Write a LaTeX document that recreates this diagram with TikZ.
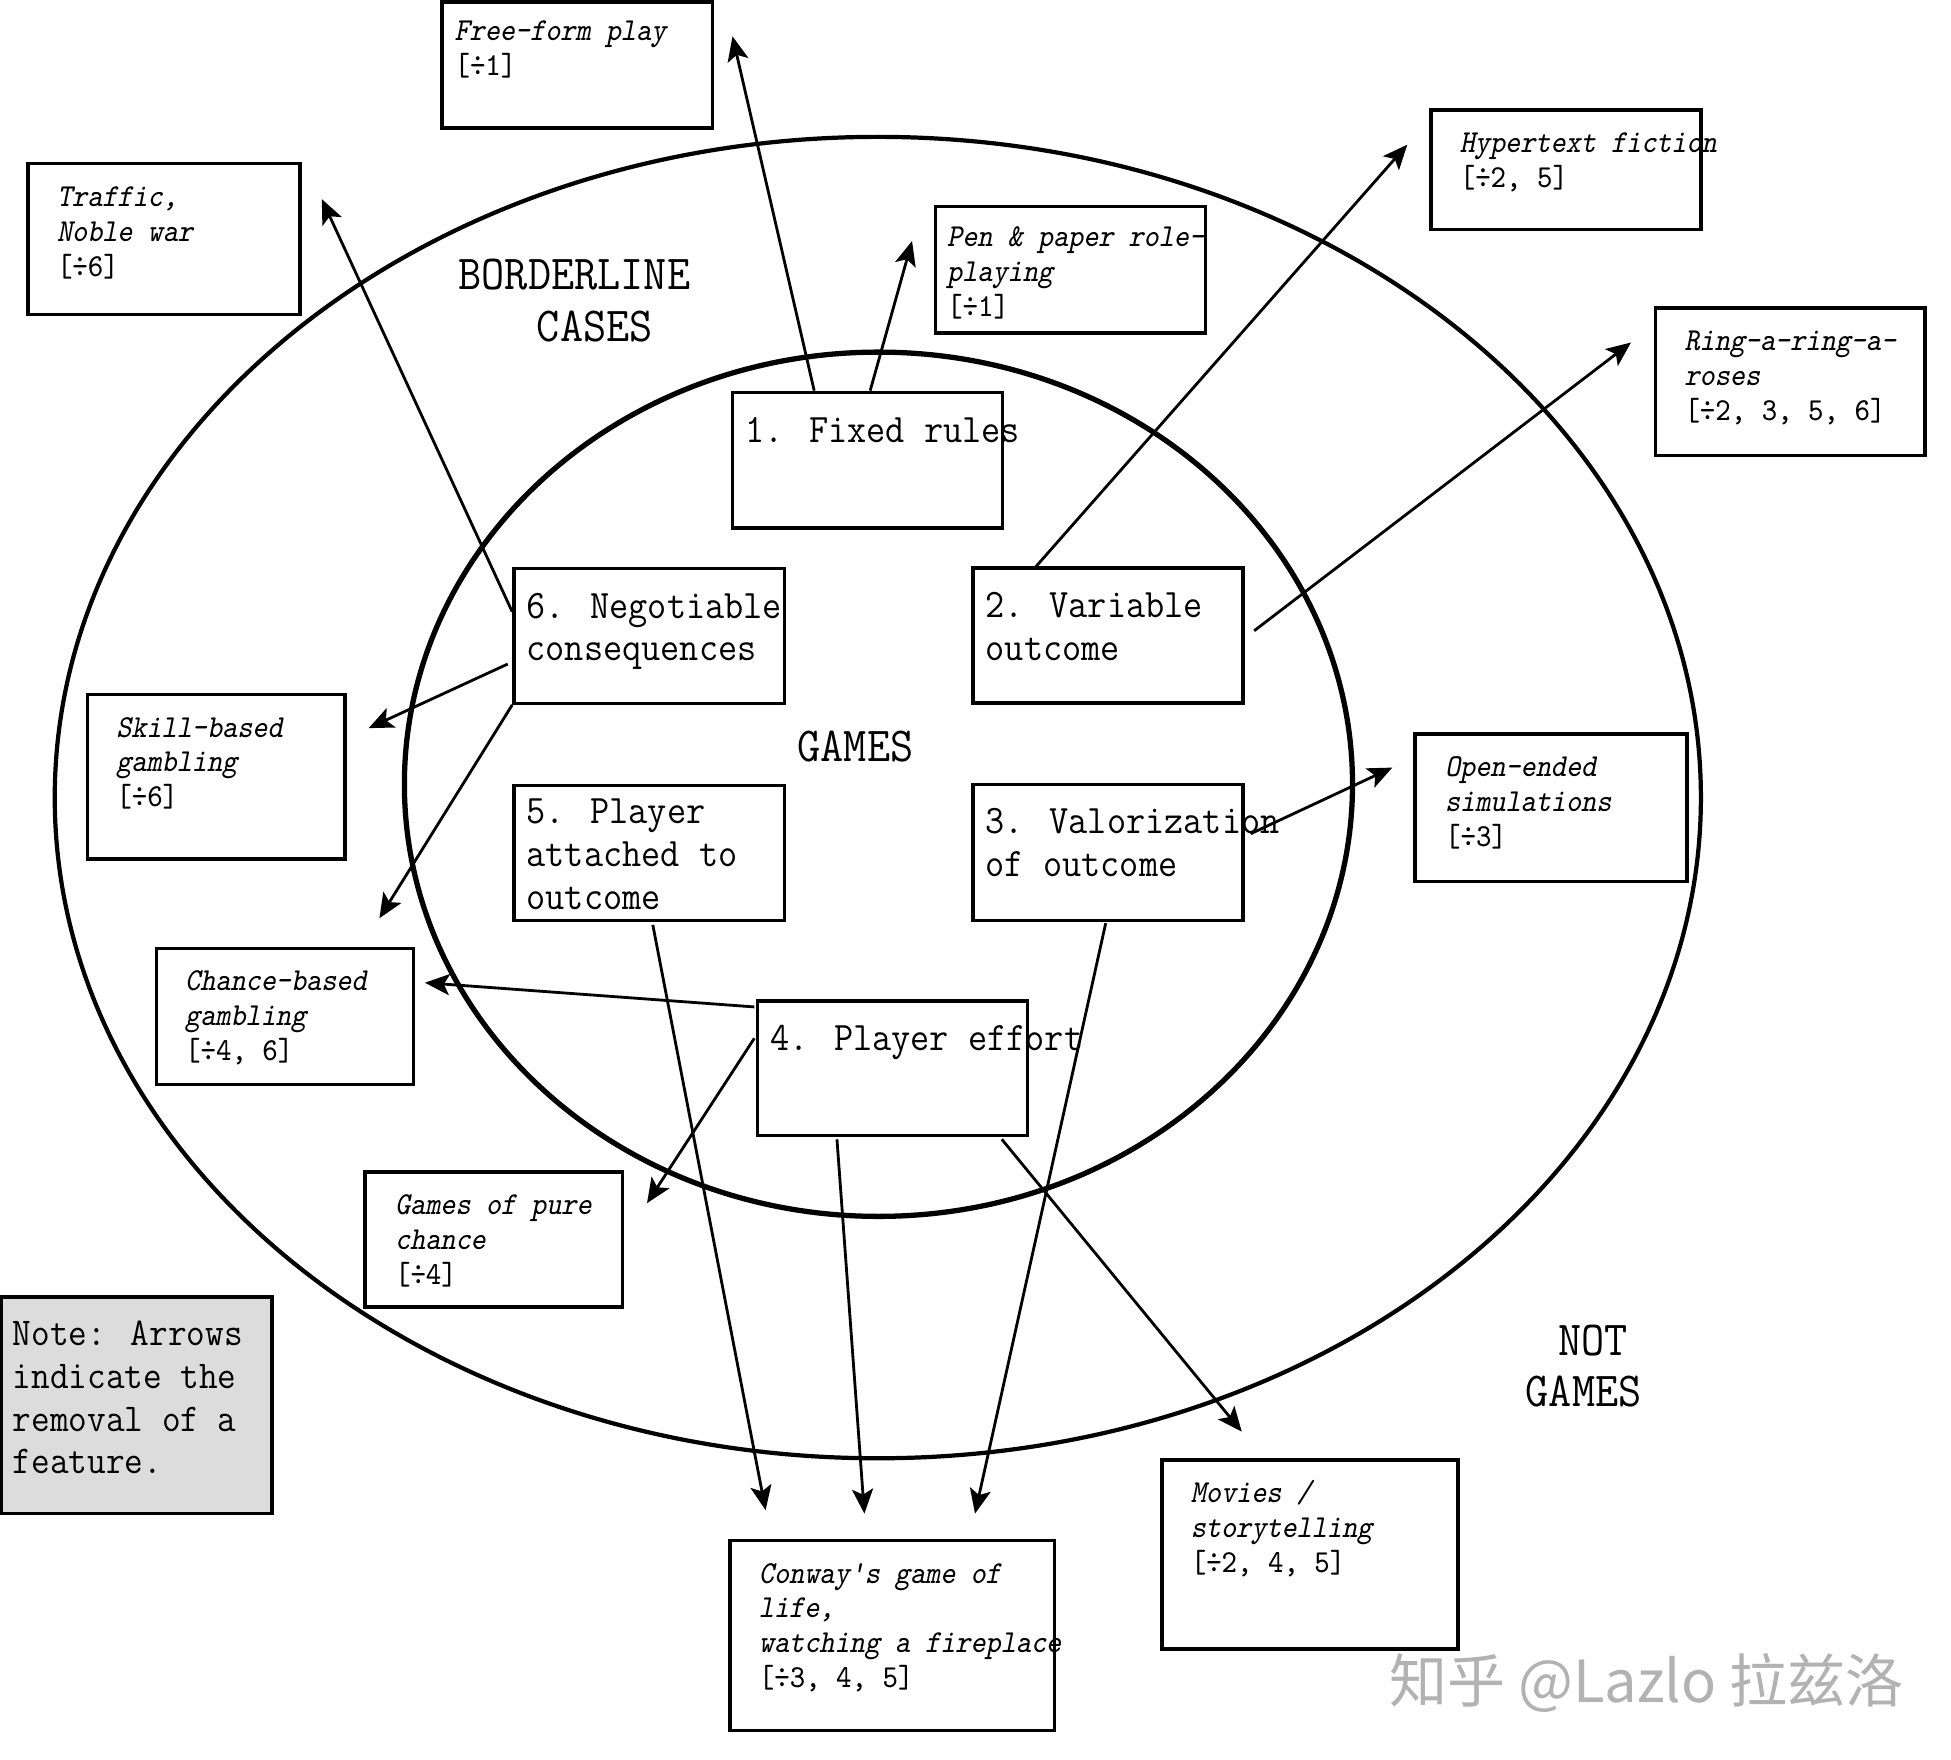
\documentclass[tikz,border=0pt]{standalone}
\usepackage{fontspec}
\newfontfamily\dfont[FakeStretch=0.92]{Latin Modern Mono}
\newfontfamily\dslant[FakeStretch=0.9,FakeSlant=0.2]{Latin Modern Mono}
\newfontfamily\cjkfont{Noto Sans CJK SC}
\usetikzlibrary{arrows.meta,fit}
\newcommand\tstrut{\rule{0pt}{0.8em}}
\lineskiplimit=-20pt
\begin{document}
\begin{tikzpicture}[x=0.012443cm, y=-0.012443cm,
  box/.style={draw, line width=0.95pt, inner sep=0pt},
  numt/.style={anchor=north west, inner sep=0pt, align=left, font=\dfont\fontsize{11.5}{12.2}\selectfont},
  itt/.style={anchor=north west, inner sep=0pt, align=left, font=\dslant\fontsize{9.1}{9.9}\selectfont},
  notet/.style={anchor=north west, inner sep=0pt, align=left, font=\dfont\fontsize{11.2}{12.2}\selectfont},
  bigt/.style={anchor=base west, inner sep=0pt, font=\dfont\fontsize{13.9}{17}\selectfont},
  arr/.style={-{Stealth[length=7pt,width=6pt,inset=1.6pt]}, line width=0.8pt},
]
\useasboundingbox (0,0) rectangle (1568,1414);

% ellipses
\draw[line width=1.2pt] (705.5,641) ellipse [x radius=661.5, y radius=531];
\draw[line width=1.5pt] (706,630.3) ellipse [x radius=381, y radius=347.3];

% region labels
\node[bigt] (bl1) at (368,233) {BORDERLINE};
\node[bigt] (bl2) at (431,274.6) {CASES};
\node[bigt] (gm) at (640.5,612) {GAMES};
\node[bigt] (ng1) at (1251.7,1089) {NOT};
\node[bigt] (ng2) at (1225.6,1130) {GAMES};

% feature boxes
\node[box, fit={(588.7,315.3) (805.7,424.4)}] (f1) {};
\node[box, fit={(782,456.6) (999,565)}] (f2) {};
\node[box, fit={(782,630.5) (999,739.6)}] (f3) {};
\node[box, fit={(608.8,804.5) (825.8,912.8)}] (f4) {};
\node[box, fit={(413,631.4) (630.4,739.6)}] (f5) {};
\node[box, fit={(413,457) (630.4,565.2)}] (f6) {};

\node[numt] (f1t) at ([shift={(11,15)}]f1.north west) {\tstrut 1. Fixed rules};
\node[numt] (f2t) at ([shift={(11,14.5)}]f2.north west) {\tstrut 2. Variable\\outcome};
\node[numt] (f3t) at ([shift={(11,14.5)}]f3.north west) {\tstrut 3. Valorization\\of outcome};
\node[numt] (f4t) at ([shift={(11,14.5)}]f4.north west) {\tstrut 4. Player effort};
\node[numt] (f5t) at ([shift={(11,5.5)}]f5.north west) {\tstrut 5. Player\\attached to\\outcome};
\node[numt] (f6t) at ([shift={(11,14.5)}]f6.north west) {\tstrut 6. Negotiable\\consequences};

% outer boxes
\node[box, fit={(355.1,1.5) (572.6,103)}] (ofree) {};
\node[box, fit={(22.6,131.6) (241,252.8)}] (otraf) {};
\node[box, fit={(752,166.1) (968.9,267.6)}] (open) {};
\node[box, fit={(1150,88.3) (1367,184.6)}] (ohyp) {};
\node[box, fit={(1330.6,247.6) (1547,366)}] (oring) {};
\node[box, fit={(70.3,558.1) (277.3,690.4)}] (oskill) {};
\node[box, fit={(1137.2,589.9) (1355.8,708.3)}] (oopen) {};
\node[box, fit={(125.6,762.1) (332.5,871.4)}] (ochance) {};
\node[box, fit={(293.3,941.9) (500.3,1050.4)}] (opure) {};
\node[box, fit={(586.7,1238) (847.4,1390.7)}] (oconway) {};
\node[box, fit={(933.8,1173.5) (1171.7,1325.4)}] (omovies) {};
\node[box, fill={rgb,255:red,220;green,220;blue,220}, fit={(1,1042.3) (218.6,1216.5)}] (note) {};

\node[itt] (ofreet) at ([shift={(11,11.5)}]ofree.north west) {\tstrut Free-form play\\{\dfont[÷1]}};
\node[itt] (otraft) at ([shift={(24,14.5)}]otraf.north west) {\tstrut Traffic,\\Noble war\\{\dfont[÷6]}};
\node[itt] (opent) at ([shift={(10,12.5)}]open.north west) {\tstrut Pen \& paper role-\\playing\\{\dfont[÷1]}};
\node[itt] (ohypt) at ([shift={(24,14.5)}]ohyp.north west) {\tstrut Hypertext fiction\\{\dfont[÷2, 5]}};
\node[itt] (oringt) at ([shift={(24,14.5)}]oring.north west) {\tstrut Ring-a-ring-a-\\roses\\{\dfont[÷2, 3, 5, 6]}};
\node[itt] (oskillt) at ([shift={(24,14.5)}]oskill.north west) {\tstrut Skill-based\\gambling\\{\dfont[÷6]}};
\node[itt] (oopent) at ([shift={(25,14.5)}]oopen.north west) {\tstrut Open-ended\\simulations\\{\dfont[÷3]}};
\node[itt] (ochancet) at ([shift={(24,14.5)}]ochance.north west) {\tstrut Chance-based\\gambling\\{\dfont[÷4, 6]}};
\node[itt] (opuret) at ([shift={(25,14.5)}]opure.north west) {\tstrut Games of pure\\chance\\{\dfont[÷4]}};
\node[itt] (oconwayt) at ([shift={(24,14.5)}]oconway.north west) {\tstrut Conway's game of\\life,\\watching a fireplace\\{\dfont[÷3, 4, 5]}};
\node[itt] (omoviest) at ([shift={(24,14.5)}]omovies.north west) {\tstrut Movies /\\storytelling\\{\dfont[÷2, 4, 5]}};
\node[notet] (notet) at ([shift={(10,14.3)}]note.north west) {\tstrut Note: Arrows\\indicate the\\removal of a\\feature.};

% arrow end points
\coordinate (tfree) at (588.7,29.2);
\coordinate (tpen) at (733,193.7);
\coordinate (ttraf) at (258.6,160);
\coordinate (thyp) at (1131,116.3);
\coordinate (tring) at (1310.8,275.3);
\coordinate (topen) at (1119,616.9);
\coordinate (tskill) at (296.3,585.2);
\coordinate (tchance1) at (304.9,738);
\coordinate (tchance2) at (341.5,789.8);
\coordinate (tpure) at (520,967);
\coordinate (tconway1) at (615.3,1213.7);
\coordinate (tconway2) at (694.7,1216.5);
\coordinate (tconway3) at (783.6,1216.5);
\coordinate (tmovies) at (998,1150.6);

% arrows
\draw[arr] ([shift={(67,0)}]f1.north west) -- (tfree);
\draw[arr] ([shift={(112,0)}]f1.north west) -- (tpen);
\draw[arr] ([shift={(0,36)}]f6.north west) -- (ttraf);
\draw[arr] ([shift={(52,0)}]f2.north west) -- (thyp);
\draw[arr] ([shift={(7.6,51.7)}]f2.north east) -- (tring);
\draw[arr] ([shift={(4.8,40.9)}]f3.north east) -- (topen);
\draw[arr] ([shift={(-3.6,78)}]f6.north west) -- (tskill);
\draw[arr] (f6.south west) -- (tchance1);
\draw[arr] ([shift={(-1.2,6.1)}]f4.north west) -- (tchance2);
\draw[arr] ([shift={(-1.2,31.3)}]f4.north west) -- (tpure);
\draw[arr] ([shift={(113,2.4)}]f5.south west) -- (tconway1);
\draw[arr] ([shift={(65.2,1.5)}]f4.south west) -- (tconway2);
\draw[arr] ([shift={(108,1)}]f3.south west) -- (tconway3);
\draw[arr] ([shift={(-22,1.5)}]f4.south east) -- (tmovies);

% watermark
\node[anchor=base west, inner sep=0pt, text=black!30, font=\cjkfont\fontsize{16.5}{20}\selectfont] (wm) at (1116,1368) {知乎 @Lazlo 拉兹洛};
\end{tikzpicture}
\end{document}
